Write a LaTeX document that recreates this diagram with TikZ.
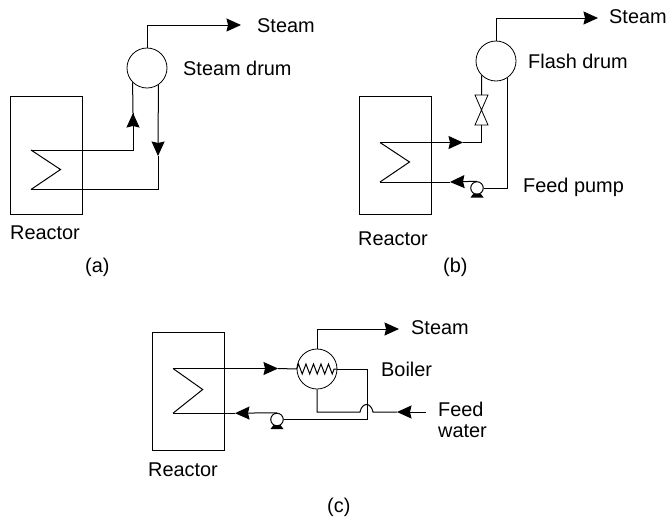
\documentclass[tikz,border=0pt]{standalone}
\usepackage{fontspec}
\setmainfont{Liberation Sans}
\usetikzlibrary{arrows.meta,decorations.pathmorphing}
\tikzset{
  pipe/.style={line width=1pt},
  flow/.style={line width=1pt,-{Stealth[length=14.5pt,width=13pt,inset=1.5pt]}},
  vessel/.style={draw,line width=0.8pt,rectangle,minimum width=72pt,minimum height=118pt,inner sep=0pt},
  drum/.style={draw,line width=0.8pt,circle,minimum size=40pt,inner sep=0pt},
  pumpbody/.style={draw,line width=1pt,circle,minimum size=12.5pt,inner sep=0pt},
  tag/.style={anchor=west,inner sep=0pt,font=\fontsize{19.9}{22}\selectfont},
  pics/pumpfoot/.style={code={\fill (-3.5,5.5)--(3.5,5.5)--(6.5,9.5)--(-6.5,9.5)--cycle;}}
}
\begin{document}
\begin{tikzpicture}[x=1pt,y=-1pt]
  \useasboundingbox (0,0) rectangle (667,517);
  % (a)
  \node[vessel] (reactorA) at (46,155) {};
  \node[drum] (drumA) at (147,68) {};
  \coordinate (coilAin) at (31,150);
  \coordinate (coilAtip) at (60.5,169.5);
  \coordinate (coilAout) at (31,189.5);
  \coordinate (steamAend) at (241,25);
  \coordinate (upA) at (133,113);
  \coordinate (downA) at (158,156);
  \draw[pipe] (coilAin)--(coilAtip)--(coilAout);
  \draw[flow] (drumA.north) |- (steamAend);
  \draw[pipe] (coilAin) -| (upA);
  \draw[flow] (133,127)--(upA);
  \draw[pipe] (upA) -- (drumA.225);
  \draw[pipe] (coilAout) -| (downA);
  \draw[flow] (drumA.-56) -- (downA);
  \node[tag] (steamA) at (257,26) {Steam};
  \node[tag] (drumAtext) at (183,68) {Steam drum};
  \node[tag] (reactorAtext) at (10,233) {Reactor};
  \node[tag] (capA) at (85,267) {(a)};
  % (b)
  \node[vessel] (reactorB) at (395,155) {};
  \node[drum] (drumB) at (496,61) {};
  \coordinate (coilBin) at (380,142.5);
  \coordinate (coilBtip) at (409.5,162);
  \coordinate (coilBout) at (380,182);
  \coordinate (steamBend) at (598,18);
  \coordinate (valveBtop) at (481.5,95);
  \coordinate (valveBlow) at (481.5,125);
  \coordinate (arrBin) at (463,142.5);
  \coordinate (arrBout) at (450,182);
  \node[pumpbody] (pumpB) at (477,188) {};
  \pic at (pumpB) {pumpfoot};
  \draw[pipe] (coilBin)--(coilBtip)--(coilBout);
  \draw[flow] (drumB.north) |- (steamBend);
  \draw[flow] (coilBin) -- (arrBin);
  \draw[pipe] (arrBin) -| (valveBlow);
  \draw[pipe,line width=0.8pt] (475,95)--(488,95)--(475,125)--(488,125)--cycle;
  \draw[pipe] (valveBtop) -- (drumB.225);
  \draw[pipe] (drumB.-56) |- (pumpB.east);
  \draw[flow] (pumpB.north) -- (arrBout);
  \draw[pipe] (arrBout) -- (coilBout);
  \node[tag] (steamB) at (609,17) {Steam};
  \node[tag] (drumBtext) at (528,61) {Flash drum};
  \node[tag] (pumpBtext) at (523,187) {Feed pump};
  \node[tag] (reactorBtext) at (358,239) {Reactor};
  \node[tag] (capB) at (443,267) {(b)};
  % (c)
  \node[vessel] (reactorC) at (188.5,391.5) {};
  \node[drum] (boilerC) at (317,369) {};
  \coordinate (coilCin) at (173,368.5);
  \coordinate (coilCtip) at (202.7,389.5);
  \coordinate (coilCout) at (173,413.2);
  \coordinate (steamCend) at (399,329);
  \coordinate (arrCin) at (278,368.5);
  \coordinate (arrCout) at (235,413.2);
  \coordinate (feedCstart) at (426,412);
  \coordinate (feedCtip) at (397,412);
  \coordinate (humpL) at (360,412);
  \coordinate (humpR) at (373,412);
  \node[pumpbody] (pumpC) at (277,419.5) {};
  \pic at (pumpC) {pumpfoot};
  \draw[pipe] (coilCin)--(coilCtip)--(coilCout);
  \draw[flow] (boilerC.north) |- (steamCend);
  \draw[flow] (coilCin) -- (arrCin);
  \draw[pipe] (arrCin) -- (boilerC.west);
  \draw[pipe,decorate,decoration={zigzag,segment length=7.5pt,amplitude=5pt}] (boilerC.west) -- (boilerC.east);
  \draw[pipe] (boilerC.east) -| (367,419.5) -- (pumpC.east);
  \draw[flow] (pumpC.north) -- (arrCout);
  \draw[pipe] (arrCout) -- (coilCout);
  \draw[pipe] (boilerC.south) |- (humpL) .. controls (362,402) and (371,402) .. (humpR) -- (feedCtip);
  \draw[flow] (feedCstart) -- (feedCtip);
  \node[tag] (steamC) at (411,328) {Steam};
  \node[tag] (boilerCtext) at (381,369) {Boiler};
  \node[tag] (feedC) at (438,409) {Feed};
  \node[tag] (waterC) at (438,431) {water};
  \node[tag] (reactorCtext) at (148,470) {Reactor};
  \node[tag] (capC) at (327,507) {(c)};
\end{tikzpicture}
\end{document}
